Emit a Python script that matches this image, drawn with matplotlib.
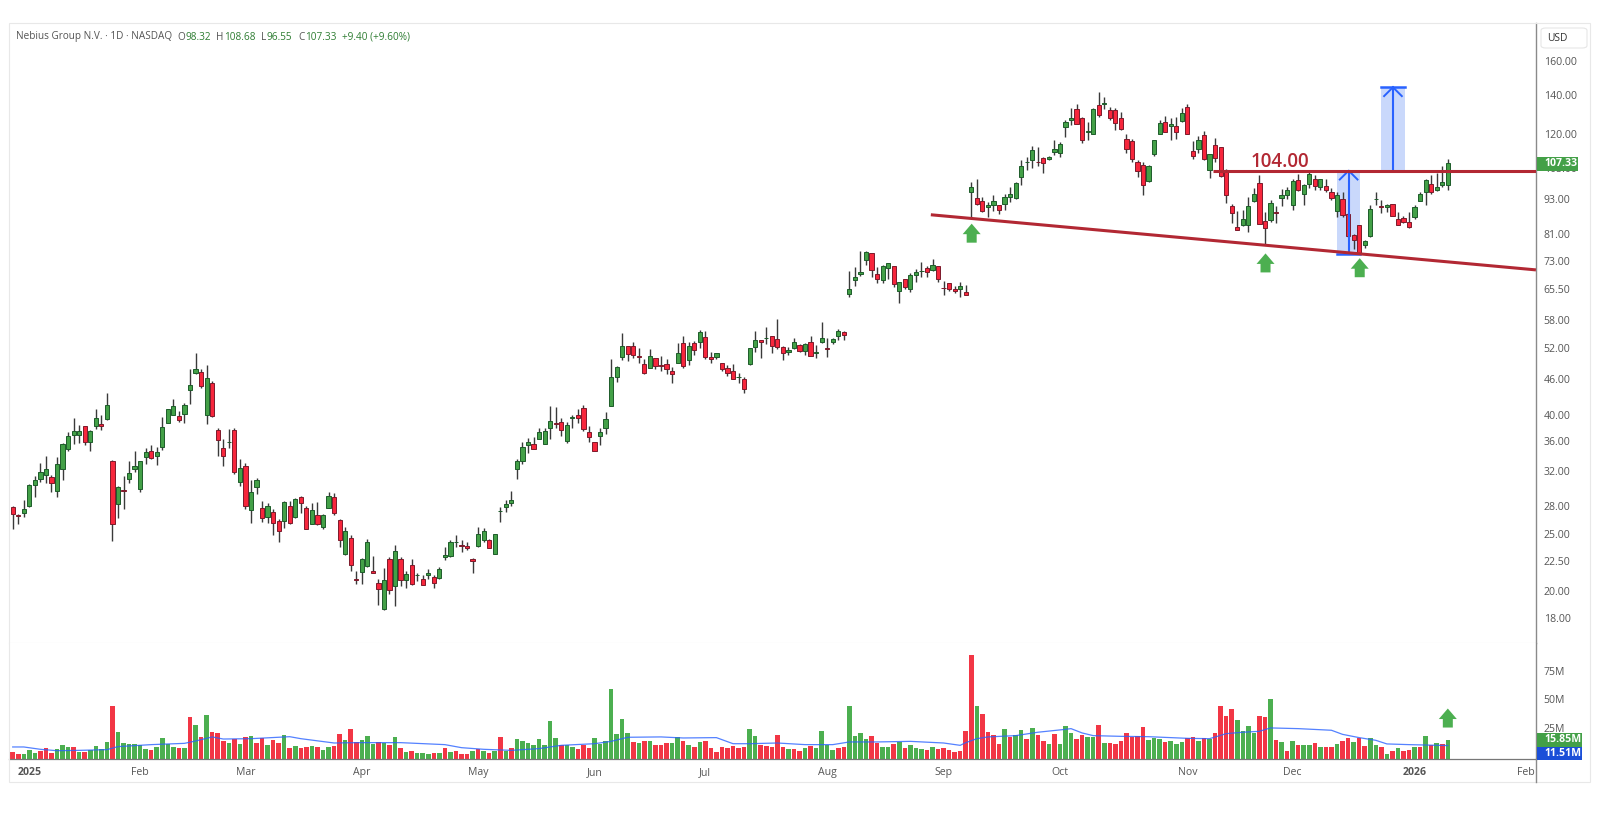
import numpy as np
import matplotlib
matplotlib.use("Agg")
import matplotlib.pyplot as plt
from matplotlib.lines import Line2D
from matplotlib.patches import Rectangle, FancyBboxPatch, Polygon
from matplotlib.ticker import NullLocator

plt.rcParams['font.family'] = ['Open Sans', 'DejaVu Sans']

# daily candles
opens = [27.8,27.0,27.2,27.9,30.3,31.1,31.5,31.3,29.7,32.3,
    35.0,36.9,36.9,38.2,35.9,38.2,38.6,39.3,33.4,28.2,
    29.8,31.1,32.3,29.9,33.9,34.7,34.0,35.2,38.7,40.0,
    39.7,40.1,44.1,47.1,47.2,40.0,45.3,37.6,35.1,35.9,
    37.6,30.7,32.7,27.5,30.1,27.7,26.8,27.3,26.4,26.4,
    28.0,26.8,29.0,27.7,26.0,27.0,25.7,27.7,29.0,26.5,
    23.2,24.7,21.0,21.6,22.1,21.7,20.7,18.7,22.7,20.4,
    22.7,20.9,22.2,21.3,21.0,21.3,21.2,21.1,22.9,23.0,
    24.3,24.0,23.9,22.7,23.9,24.5,24.5,23.2,27.4,27.8,
    28.3,32.3,33.3,35.5,35.7,36.3,35.7,37.9,38.7,38.8,
    36.1,39.4,39.9,41.0,37.4,35.9,36.7,37.9,41.3,46.3,
    50.2,52.3,52.3,50.3,48.7,48.0,49.9,48.6,48.7,47.4,
    49.0,53.0,49.5,52.9,53.2,54.3,50.2,50.2,49.0,48.0,
    47.4,46.3,46.0,48.8,52.2,53.6,53.9,54.4,53.8,52.1,
    51.2,52.0,52.5,51.4,53.2,50.9,53.1,51.9,53.1,54.5,
    55.3,64.2,67.8,69.5,73.3,75.3,69.4,67.8,71.1,71.5,
    65.0,68.0,65.4,69.2,70.2,71.1,70.6,71.5,65.8,66.9,
    65.3,65.4,64.6,95.7,93.3,92.4,90.2,90.8,90.9,91.2,
    93.7,93.6,101.4,107.6,108.6,107.8,109.2,109.0,112.1,111.5,
    123.5,127.0,132.3,127.7,120.9,120.3,134.5,135.3,131.9,131.9,
    127.8,117.8,116.7,107.8,106.5,99.8,110.9,120.3,126.1,124.0,
    123.8,126.3,133.6,112.2,113.4,119.8,104.3,114.9,114.0,103.6,
    90.7,83.5,83.9,83.9,92.4,99.1,85.3,85.8,88.5,93.6,
    94.7,90.9,100.1,94.9,98.6,100.5,97.5,98.0,95.8,88.9,
    93.2,87.9,80.8,84.0,77.6,80.4,93.1,90.5,90.2,91.4,
    85.9,86.3,85.1,86.6,92.5,95.5,98.7,96.6,98.5,98.32]
highs = [27.9,27.1,28.6,30.5,31.4,33.1,34.0,31.6,33.9,35.8,
    37.3,39.4,38.4,38.3,37.7,40.8,39.9,43.6,33.5,30.2,
    31.4,33.3,34.7,33.4,35.1,35.5,35.2,39.6,40.9,42.5,
    40.6,41.8,47.8,50.9,47.9,48.6,45.6,38.0,36.4,37.8,
    37.9,33.6,33.1,31.0,31.2,28.5,28.3,27.6,26.6,28.5,
    28.5,28.8,29.1,28.0,28.3,28.4,27.1,29.5,29.4,26.6,
    25.7,24.9,21.7,22.8,24.6,23.0,21.0,21.9,22.9,24.0,
    22.9,21.7,22.7,21.5,21.3,21.8,21.3,22.0,23.8,24.5,
    24.9,24.5,24.3,22.8,25.7,25.6,24.6,25.0,27.8,28.6,
    29.7,33.6,35.9,36.5,36.6,38.0,37.9,41.4,41.2,39.4,
    38.9,39.9,40.8,41.6,38.2,35.9,38.0,40.4,49.7,48.3,
    55.0,52.4,53.1,51.9,49.7,51.8,50.0,50.4,49.7,48.2,
    53.0,54.4,53.1,53.3,55.8,55.4,51.1,50.9,49.0,48.5,
    48.8,47.1,46.4,52.0,55.5,53.6,56.3,54.4,58.1,52.4,
    52.2,53.9,52.8,53.0,54.4,52.5,57.5,53.9,54.0,56.0,
    55.4,70.3,71.3,75.9,75.9,75.3,71.3,71.8,72.4,71.5,
    67.2,68.0,69.7,70.8,72.8,71.5,73.5,71.5,67.6,66.9,
    66.3,67.2,66.5,99.4,100.5,93.8,91.9,94.5,90.9,95.0,
    97.7,99.4,108.5,109.7,114.7,113.9,109.8,110.2,117.5,116.5,
    127.0,132.9,135.1,128.3,126.0,133.1,141.3,138.9,133.6,132.8,
    130.8,120.3,117.6,108.3,107.8,106.3,117.4,126.9,128.8,127.9,
    128.3,132.8,135.1,116.8,119.0,121.4,111.1,118.4,114.3,104.5,
    91.3,88.7,89.1,93.7,97.1,102.4,88.5,92.7,90.5,96.7,
    97.5,100.7,102.7,98.8,103.8,102.1,100.8,100.8,97.2,95.6,
    95.6,88.0,81.3,84.2,79.4,90.8,95.8,92.8,91.4,91.4,
    88.5,87.0,88.4,90.9,95.6,100.8,102.4,102.9,105.9,108.68]
lows = [25.5,26.0,26.8,27.8,29.0,30.7,30.6,29.5,29.0,31.0,
    34.7,35.6,35.8,35.5,34.7,37.8,37.6,39.2,24.4,26.7,
    27.6,30.6,31.9,29.5,33.0,33.6,32.8,34.8,38.7,40.0,
    38.9,38.7,41.7,46.8,44.4,38.6,39.6,34.0,32.7,35.1,
    31.7,30.2,27.6,26.2,29.3,26.3,26.2,24.9,24.3,25.6,
    26.0,26.7,27.2,25.5,26.0,25.9,25.5,27.7,27.0,23.8,
    23.1,21.7,20.6,20.6,22.0,21.5,19.0,18.6,19.8,18.9,
    20.4,20.3,20.5,20.8,20.5,21.0,20.3,21.0,22.6,22.9,
    23.8,23.3,23.5,21.5,23.8,24.3,23.7,23.2,26.3,27.3,
    27.9,31.1,32.9,34.4,34.9,36.3,35.6,36.4,38.0,36.8,
    35.8,38.0,38.7,37.5,35.9,34.7,35.5,37.1,41.3,45.5,
    49.6,49.4,50.0,48.9,46.9,48.0,47.8,47.4,46.9,45.2,
    48.9,48.0,48.6,50.6,52.0,49.8,48.9,49.7,47.4,46.6,
    45.9,45.2,43.6,48.5,51.1,50.0,52.7,51.0,51.8,49.5,
    50.5,51.7,51.2,50.6,50.3,49.9,53.0,50.1,52.8,53.5,
    53.6,63.5,66.2,68.8,72.0,68.6,66.9,67.1,68.1,66.0,
    62.0,65.4,64.7,67.2,68.6,68.5,70.1,67.3,63.9,65.0,
    64.4,63.5,63.8,86.2,90.8,88.6,86.6,88.9,87.7,89.0,
    91.9,93.1,98.5,104.3,105.0,105.8,103.0,108.3,110.4,109.8,
    118.7,124.5,124.7,116.1,117.4,120.2,128.4,132.5,127.0,121.8,
    122.0,111.3,107.7,101.4,94.5,99.4,110.2,120.2,120.9,117.5,
    117.8,126.0,119.9,108.9,111.5,108.4,101.0,107.6,101.5,91.7,
    84.6,82.4,83.8,81.8,91.9,84.3,78.1,85.1,84.7,90.6,
    92.9,89.2,96.1,90.9,97.3,96.3,96.3,95.6,92.7,86.6,
    86.8,80.3,76.5,75.0,76.7,80.2,91.0,88.1,88.3,87.0,
    84.0,84.8,83.0,86.0,92.3,90.8,95.1,96.2,97.4,96.55]
closes = [27.1,26.9,27.6,30.4,31.0,31.9,32.3,30.6,33.0,35.6,
    36.8,37.5,37.5,35.9,37.5,39.5,38.2,41.6,26.0,30.1,
    29.6,31.8,32.7,33.3,34.6,33.8,34.6,38.1,40.8,41.4,
    39.2,41.6,44.9,47.9,44.7,46.2,39.8,36.2,34.0,35.9,
    31.9,32.4,28.0,29.5,30.9,26.7,28.0,26.1,25.3,28.4,
    26.1,28.7,28.3,25.5,27.5,26.0,27.0,29.1,27.2,24.5,
    25.3,22.2,20.9,22.7,24.3,21.5,20.2,20.9,20.1,23.4,
    20.9,21.4,20.6,21.3,20.5,21.5,20.7,21.8,23.1,24.3,
    24.3,23.9,23.7,22.5,25.0,25.3,23.7,25.0,27.45,28.2,
    28.6,33.3,35.2,35.9,35.0,37.3,37.5,39.0,38.5,37.6,
    38.4,39.6,39.4,37.8,36.6,34.7,37.3,39.3,46.3,48.2,
    52.4,50.8,50.5,50.1,47.0,50.3,48.3,48.3,47.8,46.8,
    51.0,48.4,52.4,51.6,55.2,50.2,49.8,50.9,47.8,47.0,
    46.0,46.3,44.2,51.9,53.6,53.2,53.9,52.4,52.2,50.9,
    51.6,53.2,51.4,52.7,50.3,51.2,54.0,51.8,53.8,55.4,
    54.6,65.3,68.6,70.0,75.6,70.4,68.1,71.5,72.4,66.8,
    67.2,66.0,69.0,69.9,70.2,69.9,72.0,68.0,65.6,65.3,
    64.8,66.2,63.9,97.6,91.2,88.9,91.0,92.4,89.3,93.8,
    94.9,99.1,106.1,107.6,112.9,107.4,107.0,109.6,113.4,115.4,
    125.9,127.8,124.8,117.5,121.6,132.2,129.4,135.4,127.8,125.6,
    122.5,113.4,109.0,104.0,98.4,106.0,117.1,125.2,121.2,124.8,
    120.9,130.5,120.0,110.0,117.1,109.0,111.1,109.2,101.9,94.6,
    88.0,82.4,85.9,90.5,94.9,84.4,83.1,91.8,88.0,94.7,
    96.4,99.8,96.3,98.5,102.7,98.0,100.5,96.3,93.4,94.4,
    87.3,80.6,79.3,75.2,78.9,89.4,93.2,90.3,90.9,87.2,
    84.2,85.0,83.5,90.2,95.0,100.1,95.7,97.4,99.3,107.33]

# volume in millions, and whether each bar is green or red
volumes = [6,4,4.6,7.4,5.4,6.9,9.1,5.4,8.3,12.3,
    10.6,10.6,6.3,6,7.4,11.4,8.3,14.9,45.1,23.4,
    13.4,12.6,12.9,12,8.3,7.4,10,18,13.1,10.6,
    9.7,9.1,36.3,29.4,19.1,37.4,23.4,22.6,15.7,13.7,
    16.9,12.9,18.9,19.4,13.4,18.3,12.3,16.6,13.4,20.3,
    9.7,11.4,9.1,10.6,11.4,10.6,7.4,10.6,11.4,21.1,
    16.6,25.4,14.3,16,19.4,12.6,14.9,13.7,12,18.9,
    9.7,6,6.9,5.4,5.4,4.6,5.4,5.4,9.1,6,
    6.9,4.6,4.6,6.9,8.3,6.9,5.4,6.9,18.9,6.9,
    9.1,17.4,15.1,13.4,12,17.4,12,32.3,18,11.7,
    11.7,10,8.3,12.3,9.1,18,12.9,15.7,60,21.1,
    34.6,22.6,14.9,13.4,15.1,15.1,12,12,13.4,13.4,
    18.9,15.1,12,10,14.3,15.1,9.1,6,10.6,9.1,
    11.4,9.1,10,25.4,19.4,12,11.4,10.6,20.3,10.6,
    8.3,8.3,6.9,9.1,11.4,9.1,24.3,12.3,7.7,9.1,
    10.6,45.1,19.4,22.6,17.4,19.4,13.4,10,10.6,12.6,
    14.9,9.1,12,9.1,8.3,7.7,10,8.3,9.7,7.7,
    6,6.9,24.3,89.1,45.7,38.3,23.4,20.3,12.9,25.4,
    18.9,20.3,24.9,17.4,26.3,20.3,15.7,12.9,21.1,12.9,
    28,22,17.4,20.3,18.9,18.9,29.4,13.7,13.4,12.9,
    15.1,22,18.9,19.4,27.1,16.6,18,17.4,14.3,15.1,
    12.9,14.3,18,18.9,15.1,18,17.4,22,45.7,36.9,
    42.9,33.1,24.3,28,22.6,36.9,36,51.7,16,14.3,
    6.9,15.1,12.3,12.3,12.3,13.4,10,10.6,10.6,12.9,
    15.7,18,14.3,18,11.4,18.3,12,10,4,6.9,
    9.1,6.9,7.7,10,10.6,19.4,12,13.7,12.6,15.85]
vol_colours = ("rrgggrrrgg" "grgrggggrg" "gggggrgggg" "rgrgrgrrrg" "rgrgrrgrrg"
    "rgrrgrggrr" "grrgggrgrg" "rgrgggrgrg" "rrrgrgrgrg" "rggggggggr"
    "ggrrrggggg" "ggrgrgrrrg" "grgrgrrrrr" "rrrggrrrrr" "grrgrggggr"
    "rggggrrggr" "grgggrgrrr" "rrrrgrrrrg" "rggrgrrgrg" "ggrrggrgrr"
    "rrrrrgggrg" "ggrrgrgrrr" "rggggrrgrg" "rgrggrgrrg" "rrgrrggrgr"
    "grrgrgrgrg")

# the blue volume average, read at the bars where it bends
ma_bars = [0,2,5,8,12,17,19,25,31,33,36,38,43,50,52,58,62,70,78,81,85,90,95,99,
    105,108,111,117,121,127,130,133,138,143,148,151,156,162,168,171,172,174,
    176,181,185,190,191,193,195,200,205,212,216,219,222,225,227,232,238,240,
    243,246,248,252,259]
ma_values = [10.3,10.3,8.3,7.1,7.4,8,10.6,12.3,13.4,15.4,18.9,17.1,17.4,19.1,17.4,13.7,
    14,14,12.3,9.7,8.3,7.4,8.9,11.7,13.1,15.1,18.6,18.9,18,18.3,13.1,13.1,13.7,12.3,
    12.3,14.6,14.6,15.1,13.7,11.7,14,17.4,18.9,20,22.9,25.4,26,22.3,20,19.4,19.1,
    17.7,17.4,21.7,22.9,23.7,26.6,26,24.6,21.1,18.3,16,12.9,12.3,11.51]

date_bars = [3,23,42,63,84,105,125,147,168,189,212,231,253,273]
date_labels = ['2025','Feb','Mar','Apr','May','Jun','Jul','Aug','Sep','Oct','Nov','Dec','2026','Feb']
price_ticks = [160,140,120,105,93,81,73,65.5,58,52,46,40,36,32,28,25,22.5,20,18]
vol_ticks = [26.5,51,75.5]
vol_labels = ['25M','50M','75M']

# drawn annotations
support_bars = [165.7,274.9]
support_prices = [87.5,70.5]
resistance_bars = [216.6,274.9]
resistance_price = 104
range_low = 75.1
target_high = 144.2
box1_bars = [239.0,243.2]
box2_bars = [247.0,251.2]
arrow_bars = [173.07,226.1,243.1]
arrow_prices = [84.5,75.2,73.8]

W,H = 1600,835
GREEN,RED = '#43A047','#F7263C'
LINE_RED,BLUE = '#B22833','#2962FF'
GREY = '#555555'

def fx(px):
    return px/W
def fy(py):
    return 1-py/H

fig = plt.figure(figsize=(16,8.35),dpi=100)
ax = fig.add_axes([fx(9),fy(643),fx(1536)-fx(9),fy(23)-fy(643)])
vax = fig.add_axes([fx(9),fy(759),fx(1536)-fx(9),fy(643)-fy(759)],sharex=ax)

x = np.arange(len(closes))
o = np.array(opens)
h = np.array(highs)
l = np.array(lows)
c = np.array(closes)
up = c>=o

# candles
ax.set_yscale('log')
ax.vlines(x,l,h,color='#3a3a3a',lw=1.0,zorder=2)
ax.bar(x[up],(c-o)[up],bottom=o[up],width=0.76,color=GREEN,edgecolor='#1d5c2a',lw=0.7,zorder=3)
ax.bar(x[~up],(o-c)[~up],bottom=c[~up],width=0.76,color=RED,edgecolor='#7d1a2b',lw=0.7,zorder=3)

# blue measured move boxes
ax.fill_between(box1_bars,range_low,resistance_price,color='#C9D8FB',lw=0,zorder=1)
ax.fill_between(box2_bars,resistance_price,target_high,color='#C9D8FB',lw=0,zorder=1)
mid1 = sum(box1_bars)/2
mid2 = sum(box2_bars)/2
ax.plot(box1_bars,[range_low,range_low],color=BLUE,lw=1.8,zorder=4)
ax.plot(box2_bars,[target_high,target_high],color=BLUE,lw=1.8,zorder=4)
ax.plot(box2_bars,[resistance_price,resistance_price],color=BLUE,lw=1.8,zorder=4)
ax.plot([mid1,mid1],[range_low,resistance_price],color=BLUE,lw=1.5,zorder=4)
ax.plot([mid2,mid2],[resistance_price,target_high],color=BLUE,lw=1.5,zorder=4)
for mid,top in [(mid1,resistance_price),(mid2,target_high)]:
    ax.plot([mid-1.6,mid,mid+1.6],[top*0.966,top,top*0.966],color=BLUE,lw=1.4,zorder=4)

# support and resistance
ax.plot(support_bars,support_prices,color=LINE_RED,lw=2.2,zorder=5,solid_capstyle='butt')
ax.plot(resistance_bars,[resistance_price,resistance_price],color=LINE_RED,lw=2.2,zorder=5,solid_capstyle='butt')
ax.text(228.7,105.5,'104.00',color=LINE_RED,fontsize=13.5,fontweight=600,ha='center',va='baseline',zorder=6)

ax.set_xlim((9-12.7)/5.541,(1536-12.7)/5.541)
ax.set_ylim(16.34,185.5)
ax.yaxis.tick_right()
ax.set_yticks(price_ticks)
ax.set_yticklabels(['%.2f'%t for t in price_ticks])
ax.yaxis.set_minor_locator(NullLocator())
ax.tick_params(axis='y',length=0,pad=5.5,labelsize=7.6,labelcolor=GREY)
ax.tick_params(axis='x',length=0,labelbottom=False)

# volume pane
bar_cols = ['#4CAF50' if s=='g' else '#F23645' for s in vol_colours]
vax.bar(x,volumes,width=0.82,color=bar_cols,lw=0,zorder=2)
vax.plot(ma_bars,ma_values,color='#2962FF',lw=0.9,alpha=0.8,zorder=3)
vax.set_ylim(0,99.3)
vax.yaxis.tick_right()
vax.set_yticks(vol_ticks)
vax.set_yticklabels(vol_labels)
vax.tick_params(axis='y',length=0,pad=5.5,labelsize=7.6,labelcolor=GREY)
vax.set_xticks(date_bars)
vax.set_xticklabels(date_labels)
vax.tick_params(axis='x',length=0,pad=6,labelsize=7.6,labelcolor=GREY)
for lab in vax.get_xticklabels():
    if lab.get_text() in ('2025','2026'):
        lab.set_fontweight('bold')

for a in (ax,vax):
    a.spines['left'].set_visible(False)
    a.spines['top'].set_visible(False)
    a.spines['right'].set_color('#8a8a8a')
    a.spines['right'].set_linewidth(1.0)
ax.spines['bottom'].set_color('#ececec')
vax.spines['bottom'].set_color('#777777')
vax.spines['bottom'].set_linewidth(0.9)
fig.canvas.draw()

# green up arrows, sized in pixels
def up_arrow(a,bar,val):
    tx,ty = a.transData.transform((bar,val))
    pts = [(tx,ty),(tx+9,ty-10.5),(tx+5,ty-10.5),(tx+5,ty-19),(tx-5,ty-19),(tx-5,ty-10.5),(tx-9,ty-10.5)]
    fig.add_artist(Polygon(pts,closed=True,color='#4CAF50',lw=0,transform=None,zorder=7))

for b,p in zip(arrow_bars,arrow_prices):
    up_arrow(ax,b,p)
up_arrow(vax,259,43.2)

# outer frame and the strip under the axes
fig.add_artist(Rectangle((fx(8.5),fy(782)),fx(1590)-fx(8.5),fy(23)-fy(782),fill=False,ec='#e8e8e8',lw=0.8,transform=fig.transFigure,zorder=1))
fig.add_artist(Line2D([fx(1536),fx(1536)],[fy(759),fy(782)],color='#8a8a8a',lw=1.0,zorder=2))

# USD button
fig.add_artist(FancyBboxPatch((fx(1541),fy(48)),fx(46),fy(0)-fy(20),boxstyle='round,pad=0,rounding_size=0.003',fc='white',ec='#e6e6e6',lw=0.8,transform=fig.transFigure,zorder=3))
fig.text(fx(1547),fy(38.5),'USD',fontsize=7.4,color='#333333',va='center',zorder=4)

# last value tags
def tag(x0,x1,y0,y1,col,txt,tx):
    fig.add_artist(Rectangle((fx(x0),fy(y1)),fx(x1-x0),fy(y0)-fy(y1),fc=col,ec='none',transform=fig.transFigure,zorder=5))
    fig.text(fx(tx),fy((y0+y1)/2),txt,color='white',fontsize=7.6,fontweight='bold',va='center',zorder=6)
tag(1537,1578,157,171,'#43A047','107.33',1544)
tag(1537,1582,732.5,747,'#43A047','15.85M',1544)
tag(1537,1582,747,759.5,'#1B4FD8','11.51M',1544)

# header line
header = [(16,'Nebius Group N.V. · 1D · NASDAQ',GREY),
    (177,'O',GREY),(185.5,'98.32','#2E7D32'),
    (216,'H',GREY),(224,'108.68','#2E7D32'),
    (261,'L',GREY),(266.5,'96.55','#2E7D32'),
    (298,'C',GREY),(305,'107.33','#2E7D32'),
    (342,'+9.40 (+9.60%)','#2E7D32')]
for hx,txt,col in header:
    fig.text(fx(hx),fy(37),txt,color=col,fontsize=7.2,va='center')

fig.savefig('out.png',dpi=100,facecolor='white')
